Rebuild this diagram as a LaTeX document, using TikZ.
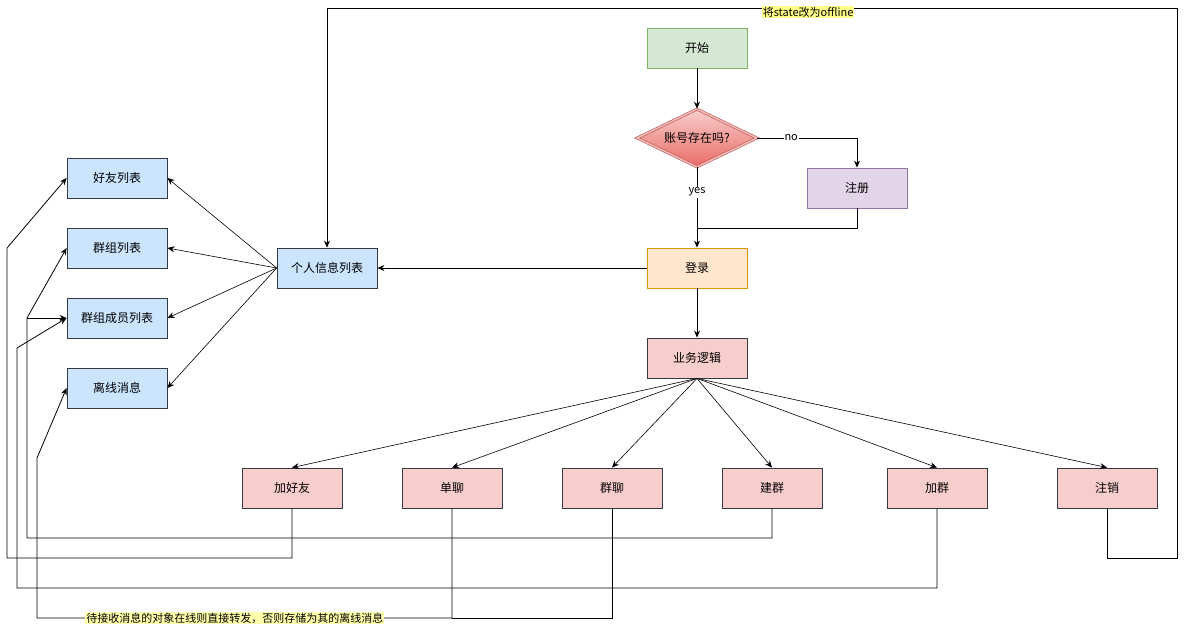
\documentclass[tikz,border=0pt]{standalone}
\usepackage{fontspec}
\setmainfont{Noto Sans CJK SC}
\usetikzlibrary{arrows.meta,shapes.geometric}
\definecolor{startfill}{HTML}{D5E8D4}
\definecolor{startline}{HTML}{82B366}
\definecolor{regfill}{HTML}{E1D5E7}
\definecolor{regline}{HTML}{9673A6}
\definecolor{loginfill}{HTML}{FFE6CC}
\definecolor{loginline}{HTML}{D79B00}
\definecolor{redfill}{HTML}{F8CECC}
\definecolor{redline}{HTML}{B85450}
\definecolor{reddeep}{HTML}{EA6B66}
\definecolor{bluefill}{HTML}{CCE5FF}
\definecolor{darkline}{HTML}{36393D}
\definecolor{tagfill}{HTML}{FFFF88}
\tikzset{
  box/.style={draw, minimum width=100pt, minimum height=40pt, line width=0.8pt,
    font=\fontsize{12}{14}\selectfont},
  bluebox/.style={box, fill=bluefill, draw=darkline},
  redbox/.style={box, fill=redfill, draw=darkline},
  arr/.style={-{Stealth[length=7pt,width=6pt]}, line width=0.8pt},
  thinarr/.style={-{Stealth[length=7pt,width=6pt]}, line width=0.6pt},
  tag/.style={fill=tagfill, inner sep=1pt, font=\fontsize{11}{13}\selectfont},
  word/.style={fill=white, inner sep=1pt, font=\fontsize{11}{13}\selectfont}
}
\begin{document}
\begin{tikzpicture}[x=1pt,y=-1pt]
  \useasboundingbox (0,0) rectangle (1185,627);
  % main flow
  \node[box, fill=startfill, draw=startline] (start) at (697,48) {开始};
  \node[diamond, aspect=2.07, minimum width=120pt, minimum height=58pt, inner sep=0pt,
        top color=redfill, bottom color=reddeep, draw=redline, line width=0.6pt,
        double=redfill!80!reddeep, double distance=1.6pt,
        font=\fontsize{12}{14}\selectfont] (exist) at (697,138) {账号存在吗?};
  \node[box, fill=regfill, draw=regline] (reg) at (857,188) {注册};
  \node[box, fill=loginfill, draw=loginline] (login) at (697,268) {登录};
  \node[redbox] (logic) at (697,358) {业务逻辑};
  \coordinate (merge) at (697,228);
  % lists
  \node[bluebox] (info) at (327,268) {个人信息列表};
  \node[bluebox] (friends) at (117,178) {好友列表};
  \node[bluebox] (groups) at (117,248) {群组列表};
  \node[bluebox] (members) at (117,318) {群组成员列表};
  \node[bluebox] (offline) at (117,388) {离线消息};
  \coordinate (fork) at (27,318);
  % operations
  \node[redbox] (addf) at (292,488) {加好友};
  \node[redbox] (chat) at (452,488) {单聊};
  \node[redbox] (gchat) at (612,488) {群聊};
  \node[redbox] (mkgrp) at (772,488) {建群};
  \node[redbox] (join) at (937,488) {加群};
  \node[redbox] (logout) at (1107,488) {注销};

  \draw[arr] (start) -- (exist);
  \draw[arr] (exist.east) -| (reg.north) node[word, pos=.17] {no};
  \draw[arr] (exist.south) -- (login.north) node[word, pos=.31] {yes};
  \draw[line width=0.8pt] (reg.south) |- (merge);
  \draw[arr] (login) -- (info);
  \draw[arr] (login) -- (logic);
  \foreach \t in {friends,groups,members,offline}
    \draw[thinarr] (info.west) -- (\t.east);
  \foreach \t in {addf,chat,gchat,mkgrp,join,logout}
    \draw[thinarr] (logic.south) -- (\t.north);

  % back routes
  \draw[arr] (logout.south) -- (1107,558) -- (1177,558) -- (1177,8)
    -- node[tag, pos=.434, yshift=-4pt] {将state改为offline} (327,8) -- (info.north);
  \draw[arr] (addf.south) -- (292,558) -- (7,558) -- (7,248) -- (friends.west);
  \draw[arr] (mkgrp.south) -- (772,538) -- (27,538) -- (fork) -- (groups.west);
  \draw[arr] (fork) -- (members.west);
  \draw[arr] (join.south) -- (937,588) -- (17,588) -- (17,348) -- (members.west);
  \draw[line width=0.8pt] (gchat.south) -- (612,618) -- (452,618);
  \draw[arr] (chat.south) -- (452,618)
    -- node[tag, pos=.523, fill=tagfill!70!white] {待接收消息的对象在线则直接转发，否则存储为其的离线消息} (37,618)
    -- (37,458) -- (offline.west);
\end{tikzpicture}
\end{document}
